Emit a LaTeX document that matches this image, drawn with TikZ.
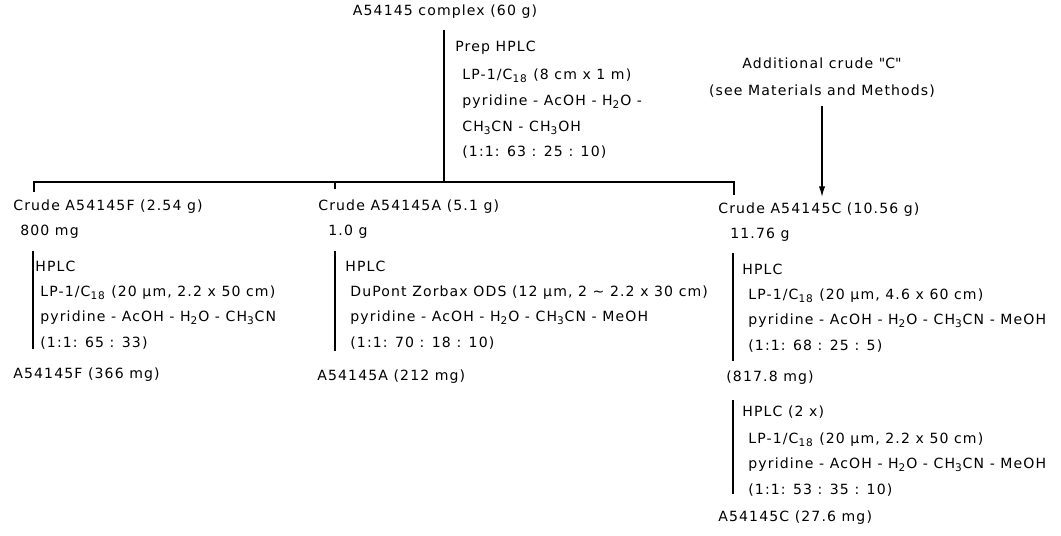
\documentclass[tikz,border=0pt]{standalone}
\usepackage{fontspec}
\setmainfont{DejaVu Sans}[LetterSpace=8]
\usetikzlibrary{arrows.meta,positioning}
\tikzset{
  txt/.style={anchor=west,inner sep=0pt,font=\fontsize{8}{14.6}\selectfont},
  steps/.style={txt,align=left},
  centred/.style={txt,anchor=center},
  conn/.style={line width=0.7pt,black},
  arrow/.style={conn,-{Latex[length=6pt,width=3.6pt]}}
}

\begin{document}
\begin{tikzpicture}[x=0.02cm,y=-0.02cm]
  \useasboundingbox (0,0) rectangle (1061,536);
  % start
  \node[centred] (complex) at (445,12) {A54145 complex (60 g)};
  \node[txt] (prepM) at (455,48) {Prep HPLC};
  \node[steps] (prepC) at (462,114)
    {LP-1/C\textsubscript{18} (8 cm x 1 m)\\
     pyridine - AcOH - H\textsubscript{2}O -\\
     CH\textsubscript{3}CN - CH\textsubscript{3}OH\\
     (1:1: 63 : 25 : 10)};
  \node[centred] (addC) at (822,63) {Additional crude \textquotedbl C\textquotedbl};
  \node[centred] (seeC) at (822,91) {(see Materials and Methods)};
  \coordinate (barL) at (34,182);
  \coordinate (barM) at (444,182);
  \coordinate (barA) at (335,182);
  \coordinate (barR) at (734,182);

  % F branch
  \node[txt] (crudeF) at (13,207) {Crude A54145F (2.54 g)};
  \node[txt] (amtF) at (20,232) {800 mg};
  \node[txt] (hplcF) at (35,266) {HPLC};
  \node[steps] (condF) at (40,317.5)
    {LP-1/C\textsubscript{18} (20 µm, 2.2 x 50 cm)\\
     pyridine - AcOH - H\textsubscript{2}O - CH\textsubscript{3}CN\\
     (1:1: 65 : 33)};
  \node[txt] (prodF) at (13,375) {A54145F (366 mg)};

  % A branch
  \node[txt] (crudeA) at (318,207) {Crude A54145A (5.1 g)};
  \node[txt] (amtA) at (328,232) {1.0 g};
  \node[txt] (hplcA) at (345,266) {HPLC};
  \node[steps] (condA) at (350,317.5)
    {DuPont Zorbax ODS (12 µm, 2 \textasciitilde{} 2.2 x 30 cm)\\
     pyridine - AcOH - H\textsubscript{2}O - CH\textsubscript{3}CN - MeOH\\
     (1:1: 70 : 18 : 10)};
  \node[txt] (prodA) at (317,377) {A54145A (212 mg)};

  % C branch
  \node[txt] (crudeC) at (718,210) {Crude A54145C (10.56 g)};
  \node[txt] (amtC) at (730,235) {11.76 g};
  \node[txt] (hplcC) at (742,269) {HPLC};
  \node[steps] (condC) at (748,320.5)
    {LP-1/C\textsubscript{18} (20 µm, 4.6 x 60 cm)\\
     pyridine - AcOH - H\textsubscript{2}O - CH\textsubscript{3}CN - MeOH\\
     (1:1: 68 : 25 : 5)};
  \node[txt] (midC) at (726,378) {(817.8 mg)};
  \node[txt] (hplc2C) at (742,412) {HPLC (2 x)};
  \node[steps] (cond2C) at (748,464.5)
    {LP-1/C\textsubscript{18} (20 µm, 2.2 x 50 cm)\\
     pyridine - AcOH - H\textsubscript{2}O - CH\textsubscript{3}CN - MeOH\\
     (1:1: 53 : 35 : 10)};
  \node[txt] (prodC) at (718,518) {A54145C (27.6 mg)};

  % connectors
  \draw[conn,shorten <=6pt] (complex.south -| barM) -- (barM);
  \draw[conn,shorten <=4.5pt,shorten >=4.5pt] (barL |- crudeF.north) -- (barL) -- (barR) -- (barR |- crudeC.north);
  \draw[conn,shorten >=6pt] (barA) -- (barA |- crudeA.north);
  \draw[arrow,shorten <=4.5pt,shorten >=3.4pt] (seeC.south) -- (seeC.south |- crudeC.north);
  \draw[conn,shorten <=6.8pt,shorten >=10.8pt] ([xshift=-1.1pt]hplcF.west |- amtF.south) -- ([xshift=-1.1pt]hplcF.west |- prodF.north);
  \draw[conn,shorten <=6.8pt,shorten >=10.8pt] ([xshift=-5.7pt]hplcA.west |- amtA.south) -- ([xshift=-5.7pt]hplcA.west |- prodA.north);
  \draw[conn,shorten <=6.2pt,shorten >=5.7pt] ([xshift=-5.1pt]hplcC.west |- amtC.south) -- ([xshift=-5.1pt]hplcC.west |- midC.north);
  \draw[conn,shorten <=8.5pt,shorten >=9.6pt] ([xshift=-5.1pt]hplc2C.west |- midC.south) -- ([xshift=-5.1pt]hplc2C.west |- prodC.north);
\end{tikzpicture}
\end{document}
